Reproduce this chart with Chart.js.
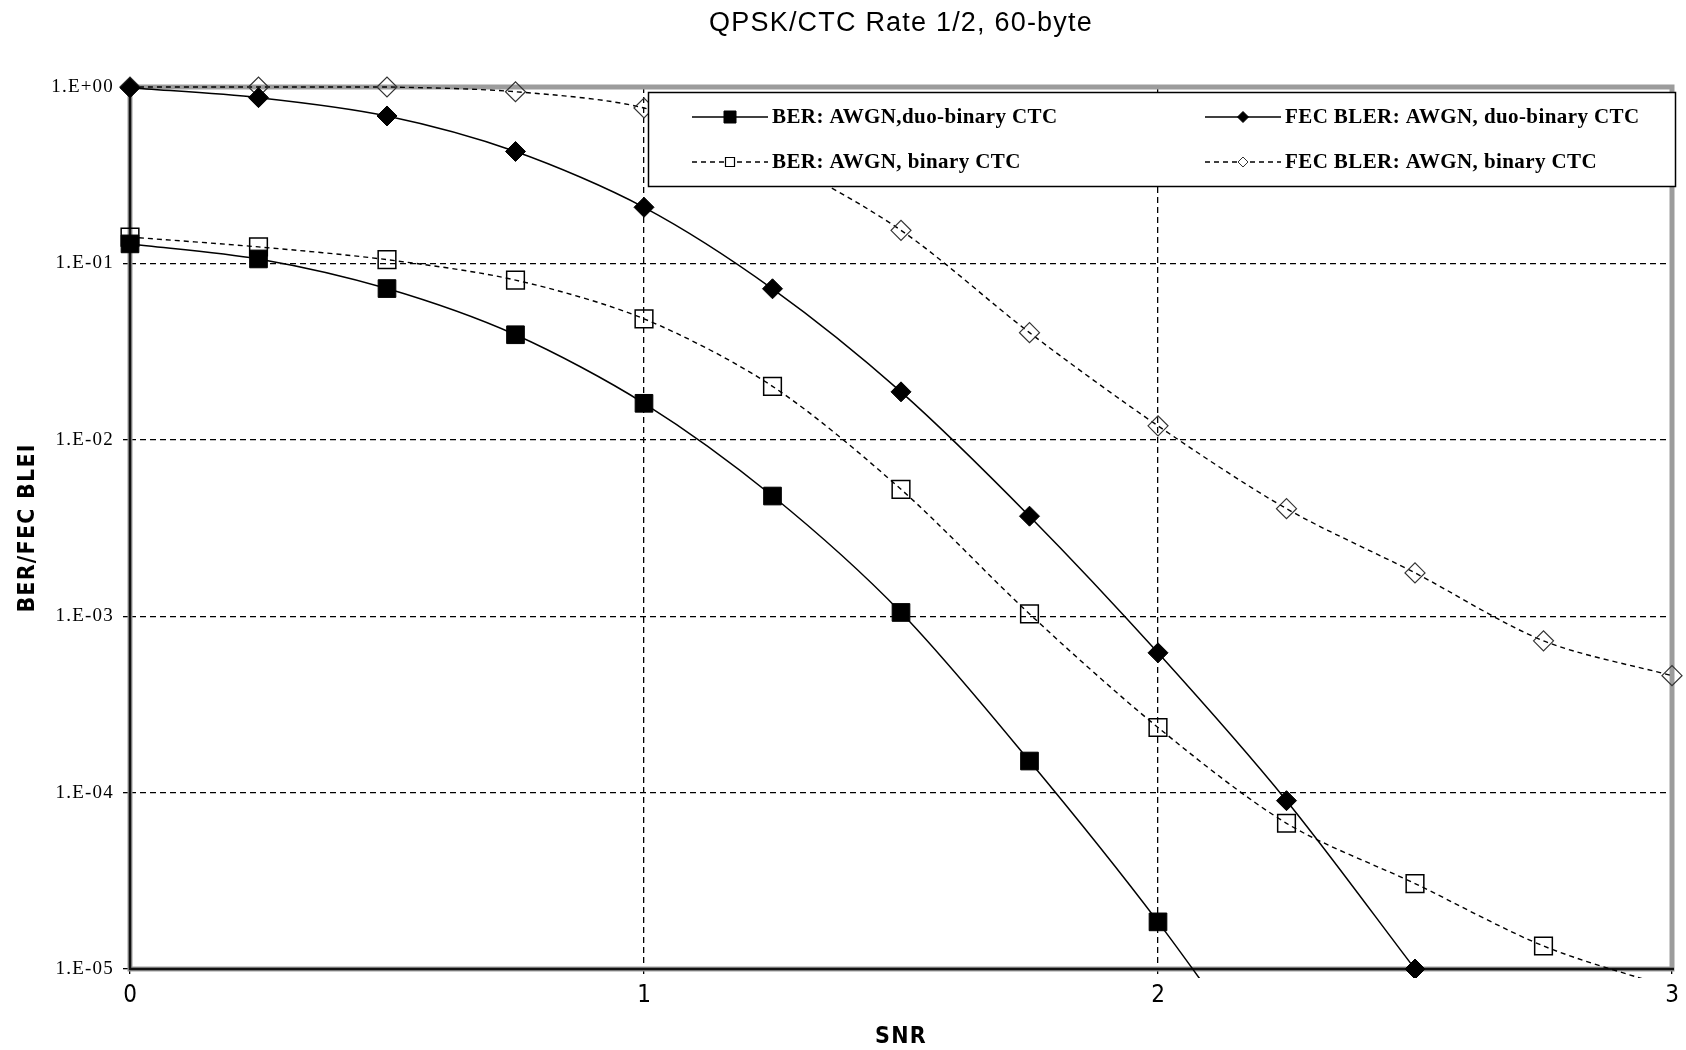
<!DOCTYPE html>
<html><head><meta charset="utf-8">
<script src="https://cdn.jsdelivr.net/npm/chart.js@4.4.1/dist/chart.umd.min.js"></script>
<style>html,body{margin:0;padding:0;background:#fff;overflow:hidden}#wrap{width:1686px;height:1050px}</style>
</head><body><div id="wrap"><canvas id="c" width="1686" height="1050"></canvas></div>
<script>
// ---- data ----
const snr = [0, 0.25, 0.5, 0.75, 1, 1.25, 1.5, 1.75, 2, 2.25, 2.5, 2.75, 3];
const berDuo = [0.129, 0.106, 0.072, 0.0394, 0.0161, 0.0048, 0.00105, 1.51e-4, 1.85e-5, 1.8e-6, null, null, null];
const fecDuo = [0.99, 0.87, 0.685, 0.431, 0.208, 0.0718, 0.0187, 0.00369, 6.2e-4, 9.0e-5, 1.0e-5, null, null];
const berBin = [0.141, 0.124, 0.105, 0.0804, 0.0485, 0.0201, 0.00524, 0.00103, 2.34e-4, 6.7e-5, 3.05e-5, 1.35e-5, 7.8e-6];
const fecBin = [1.0, 1.0, 1.0, 0.94, 0.76, 0.40, 0.154, 0.0405, 0.012, 0.00407, 0.00176, 7.25e-4, 4.6e-4];
const seriesNames = ['BER: AWGN,duo-binary CTC', 'FEC BLER: AWGN, duo-binary CTC', 'BER: AWGN, binary CTC', 'FEC BLER: AWGN, binary CTC'];
const yTickValues = [1e-5, 1e-4, 1e-3, 1e-2, 1e-1, 1];
const yTickLabels = ['1.E-05', '1.E-04', '1.E-03', '1.E-02', '1.E-01', '1.E+00'];
const xTickValues = [0, 1, 2, 3];
const xTickLabels = ['0', '1', '2', '3'];
const chartTitle = 'QPSK/CTC Rate 1/2, 60-byte';
const xTitle = 'SNR';
const yTitle = 'BER/FEC BLEI';

const yMin = yTickValues[0], yMax = yTickValues[yTickValues.length - 1];
const toXY = arr => snr.map((x, i) => ({x, y: arr[i]}));
const radiusFor = r => c => (c.raw && c.raw.y !== null && c.raw.y < yMin * 0.999) ? 0 : r;
const narrowFont = '"Liberation Sans Narrow", "DejaVu Sans Condensed", "Arial Narrow", sans-serif';

const framePlugin = {
  id: 'frame',
  beforeDraw(chart) { chart.ctx.letterSpacing = '1.2px'; },
  beforeDatasetsDraw(chart) {
    const {left, right, top, bottom} = chart.chartArea;
    const ctx = chart.ctx;
    ctx.save();
    ctx.setLineDash([]);
    ctx.strokeStyle = '#9c9c9c'; ctx.lineWidth = 5;
    ctx.strokeRect(left, top, right - left, bottom - top);
    ctx.strokeStyle = '#111'; ctx.lineWidth = 2.5;
    ctx.beginPath(); ctx.moveTo(left, top - 2); ctx.lineTo(left, bottom); ctx.lineTo(right + 2, bottom); ctx.stroke();
    ctx.restore();
  }
};

function marker(ctx, style, x, y, r, fill, stroke, lw) {
  ctx.beginPath();
  if (style === 'rect') ctx.rect(x - r, y - r, 2 * r, 2 * r);
  else { ctx.moveTo(x - r, y); ctx.lineTo(x, y - r); ctx.lineTo(x + r, y); ctx.lineTo(x, y + r); ctx.closePath(); }
  if (fill) { ctx.fillStyle = fill; ctx.fill(); }
  if (stroke) { ctx.strokeStyle = stroke; ctx.lineWidth = lw; ctx.stroke(); }
}

const legendPlugin = {
  id: 'boxLegend',
  afterDatasetsDraw(chart) {
    const ctx = chart.ctx;
    ctx.save();
    ctx.letterSpacing = '0.4px';
    ctx.setLineDash([]);
    ctx.fillStyle = '#fff';
    ctx.fillRect(648, 92, 1028, 95);
    ctx.strokeStyle = '#000'; ctx.lineWidth = 1.5;
    ctx.strokeRect(648.5, 92.5, 1027, 94);
    const slots = [[692, 117], [1205, 117], [692, 162], [1205, 162]];
    const mk = [['rect', 6, '#000', '#000', 1], ['rectRot', 5.5, '#000', '#000', 1], ['rect', 4.5, null, '#000', 1.2], ['rectRot', 5, null, '#333', 1]];
    chart.data.datasets.forEach((ds, i) => {
      const [x0, y] = slots[i];
      ctx.strokeStyle = '#000'; ctx.lineWidth = 1.5;
      ctx.setLineDash(ds.borderDash || []);
      ctx.beginPath(); ctx.moveTo(x0, y); ctx.lineTo(x0 + 76, y); ctx.stroke();
      ctx.setLineDash([]);
      marker(ctx, mk[i][0], x0 + 38, y, mk[i][1], mk[i][2] || '#fff', mk[i][3], mk[i][4]);
      ctx.fillStyle = '#000';
      ctx.font = 'bold 21px "Liberation Serif", "Times New Roman", serif';
      ctx.textBaseline = 'middle'; ctx.textAlign = 'left';
      ctx.fillText(ds.label, x0 + 80, y + 1);
    });
    ctx.restore();
    ctx.letterSpacing = '0px';
  }
};

const clipBox = {left: 14, top: 14, right: 14, bottom: 9};

new Chart(document.getElementById('c'), {
  type: 'line',
  data: {
    datasets: [
      {label: seriesNames[0], data: toXY(berDuo), borderColor: '#000', borderWidth: 1.5, borderDash: [],
       pointStyle: 'rect', pointRadius: radiusFor(12.5), pointBackgroundColor: '#000', pointBorderColor: '#000', pointBorderWidth: 1, tension: 0.3, clip: clipBox},
      {label: seriesNames[1], data: toXY(fecDuo), borderColor: '#000', borderWidth: 1.5, borderDash: [],
       pointStyle: 'rectRot', pointRadius: radiusFor(10), pointBackgroundColor: '#000', pointBorderColor: '#000', pointBorderWidth: 1, tension: 0.3, clip: clipBox},
      {label: seriesNames[2], data: toXY(berBin), borderColor: '#000', borderWidth: 1.4, borderDash: [5, 4],
       pointStyle: 'rect', pointRadius: radiusFor(12.5), pointBackgroundColor: 'rgba(0,0,0,0)', pointBorderColor: '#000', pointBorderWidth: 1.5, tension: 0.3, clip: clipBox},
      {label: seriesNames[3], data: toXY(fecBin), borderColor: '#000', borderWidth: 1.4, borderDash: [5, 4],
       pointStyle: 'rectRot', pointRadius: radiusFor(10), pointBackgroundColor: 'rgba(0,0,0,0)', pointBorderColor: '#333', pointBorderWidth: 1.2, tension: 0.3, clip: clipBox}
    ]
  },
  options: {
    responsive: false, animation: false, devicePixelRatio: 1,
    layout: {padding: {left: 0, right: 7, top: 0, bottom: 0}},
    plugins: {
      legend: {display: false},
      tooltip: {enabled: false},
      title: {display: true, text: chartTitle, fullSize: false, color: '#000',
        font: {family: '"Liberation Sans", Arial, sans-serif', size: 27, weight: 'normal', lineHeight: 1.2},
        padding: {top: 7, bottom: 47.6}}
    },
    scales: {
      x: {
        type: 'linear', min: 0, max: 3,
        afterFit: s => { s.height = 81; },
        afterBuildTicks: s => { s.ticks = xTickValues.map(v => ({value: v})); },
        ticks: {z: 1, color: '#000', padding: 7, autoSkip: false, maxRotation: 0,
          font: {family: narrowFont, size: 24},
          callback: v => xTickLabels[xTickValues.indexOf(v)]},
        grid: {color: '#000', lineWidth: 1.3, tickLength: 5, tickColor: '#000', tickWidth: 1.3, tickBorderDash: []},
        border: {display: false, dash: [6, 4]},
        title: {display: true, text: xTitle, color: '#000', padding: {top: 0, bottom: 1},
          font: {family: narrowFont, size: 23, weight: 'bold', lineHeight: 1}}
      },
      y: {
        type: 'logarithmic', min: yMin, max: yMax,
        afterFit: s => { s.width = 130; },
        afterBuildTicks: s => { s.ticks = yTickValues.map(v => ({value: v})); },
        ticks: {color: '#000', padding: 9, autoSkip: false,
          font: {family: '"Liberation Serif", "Times New Roman", serif', size: 19},
          callback: v => yTickLabels[yTickValues.findIndex(t => Math.abs(Math.log10(t) - Math.log10(v)) < 1e-6)]},
        grid: {color: '#000', lineWidth: 1.3, tickLength: 7, tickColor: '#000', tickWidth: 1.3, tickBorderDash: []},
        border: {display: false, dash: [6, 4]},
        title: {display: true, text: yTitle, color: '#000', padding: {top: 17, bottom: 0},
          font: {family: narrowFont, size: 23, weight: 'bold', lineHeight: 1}}
      }
    }
  },
  plugins: [framePlugin, legendPlugin]
});
</script></body></html>
